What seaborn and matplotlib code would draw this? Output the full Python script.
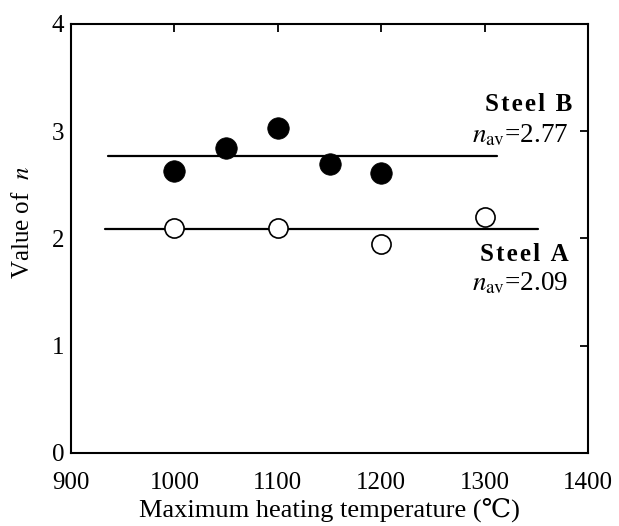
import matplotlib
matplotlib.use("Agg")
import matplotlib.pyplot as plt
import seaborn as sns
import pandas as pd

# Data
temp_b = [1000, 1050, 1100, 1150, 1200]
n_b = [2.63, 2.84, 3.03, 2.69, 2.61]
temp_a = [1000, 1100, 1200, 1300]
n_a = [2.10, 2.10, 1.95, 2.20]
nav_b = 2.77
nav_a = 2.09
line_b_x = [936, 1312]
line_a_x = [933, 1352]
x_ticks = [900, 1000, 1100, 1200, 1300, 1400]
y_ticks = [0, 1, 2, 3, 4]

sns.set_theme(style="white")
plt.rcParams['font.family'] = ['Liberation Serif', 'DejaVu Serif']
plt.rcParams['mathtext.fontset'] = 'stix'
for k in ['text.color', 'axes.labelcolor', 'xtick.color', 'ytick.color',
          'axes.edgecolor']:
    plt.rcParams[k] = 'black'

fig = plt.figure(figsize=(6.19, 5.26), dpi=100)
ax = fig.add_axes([0.1147, 0.1388, 0.8353, 0.8156])

df_b = pd.DataFrame({"T": temp_b, "n": n_b})
df_a = pd.DataFrame({"T": temp_a, "n": n_a})

sns.lineplot(x=line_b_x, y=[nav_b, nav_b], ax=ax, color="black", lw=1.6)
sns.lineplot(x=line_a_x, y=[nav_a, nav_a], ax=ax, color="black", lw=1.6)
sns.scatterplot(data=df_b, x="T", y="n", ax=ax, s=240, color="black",
                edgecolor="black", linewidth=0.5, zorder=3)
sns.scatterplot(data=df_a, x="T", y="n", ax=ax, s=190, facecolor="white",
                edgecolor="black", linewidth=1.2, zorder=3)

ax.set_xlim(900, 1400)
ax.set_ylim(0, 4)
ax.set_xticks(x_ticks)
ax.set_yticks(y_ticks)
ax.tick_params(direction="in", length=6, width=1.3, top=True, right=True,
               labelsize=18, colors="black", pad=5)
ax.tick_params(axis="x", pad=14)
for sp in ax.spines.values():
    sp.set_color("black")
    sp.set_linewidth(1.5)

ax.set_xlabel("Maximum heating temperature (\u2103)", fontsize=19, labelpad=2)
ax.set_ylabel(r"Value of  $n$", fontsize=18)
ax.yaxis.set_label_coords(-0.071, 0.538)

steel_b = "\u200a".join("Steel B")
steel_a = "\u200a".join("Steel A")
ax.text(1385, 3.25, steel_b, ha="right", va="center", fontsize=18,
        fontweight="bold")
ax.text(1381, 2.96, r"$n_{\rm av}$=2.77", ha="right", va="center", fontsize=19.5)
ax.text(1381, 1.85, steel_a, ha="right", va="center", fontsize=18,
        fontweight="bold")
ax.text(1381, 1.58, r"$n_{\rm av}$=2.09", ha="right", va="center", fontsize=19.5)

fig.savefig("out.png", dpi=100)
